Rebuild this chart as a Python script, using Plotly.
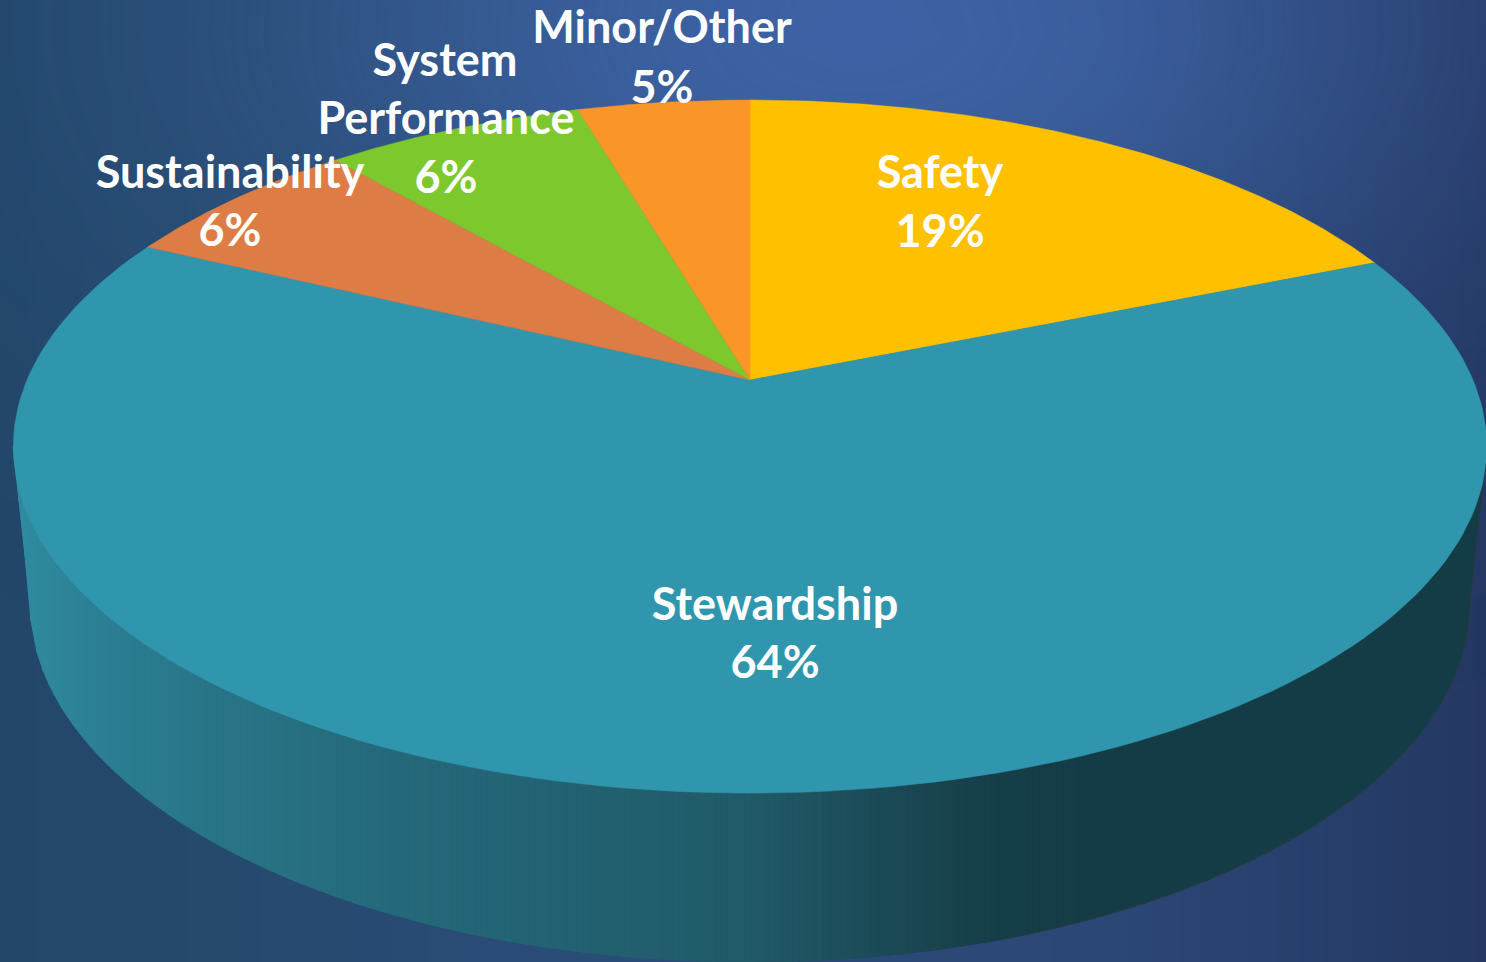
#!/usr/bin/env python
import numpy as np
import plotly.graph_objects as go

categories = ["Safety", "Stewardship", "Sustainability", "System Performance", "Minor/Other"]
# slice shares (the printed labels are rounded)
shares = [18.85, 63.25, 6.5, 6.85, 4.55]
colors = ["#FFC000", "#3096AE", "#DD7D45", "#7DC92D", "#FA9527"]

# one entry per printed line of label
label_text = ["Safety", "19%", "Stewardship", "64%", "Sustainability", "6%",
              "System", "Performance", "6%", "Minor/Other", "5%"]
label_x = [940, 940, 775, 775, 230, 230, 445, 446, 446, 662, 662]
label_y = [177, 236, 609, 667, 177, 235, 65, 123, 182, 32, 92]

W, H = 1486, 962

# perspective of the tilted disc: centre of pie sits above the middle of the ellipse
APEX_X, APEX_Y = 750, 380
K, B, C = 0.192, -260.8, 723


def rim(t):
    # t is radians clockwise from the far side of the disc
    depth = np.cos(t)
    return APEX_X + C * np.sin(t) / (1 + K * depth), (APEX_Y + B * depth) / (1 + K * depth)


# wall below the disc, shaded left to right
TOP_CY, TOP_A, TOP_B = 446, 737, 347
LOW_CY, LOW_A, LOW_B = 602, 720, 360
wall_stops_x = [13, 40, 100, 200, 400, 600, 750, 900, 1000, 1100, 1486]
wall_stops_r = [48, 46, 44, 41, 36, 34, 33, 26, 21, 20, 20]
wall_stops_g = [140, 136, 126, 118, 105, 96, 90, 72, 62, 60, 60]
wall_stops_b = [162, 156, 148, 136, 122, 112, 104, 84, 72, 70, 70]


def wall_bottom(x):
    dx = np.abs(x - APEX_X)
    if dx >= LOW_A:
        # straight silhouette from the low rim up to the widest point of the top
        frac = (TOP_A - dx) / (TOP_A - LOW_A)
        return TOP_CY + frac * (LOW_CY - TOP_CY)
    return LOW_CY + LOW_B * np.sqrt(1 - (dx / LOW_A) ** 2)


fig = go.Figure()

# backdrop
gx = np.linspace(0, W, 40)
gy = np.linspace(0, H, 26)
base = np.tile(gx / W, (len(gy), 1))
fig.add_trace(go.Heatmap(
    x=gx, y=gy, z=base, zmin=0, zmax=1, zsmooth="best", showscale=False, hoverinfo="skip",
    colorscale=[[0, "#23476A"], [0.15, "#264A6E"], [0.4, "#2B4B78"], [0.75, "#2B4776"], [1, "#243862"]],
))
mx, my = np.meshgrid(gx, gy)
glow = np.exp(-(((mx - 860) / 560) ** 2 + ((my - 30) / 300) ** 2))
fig.add_trace(go.Heatmap(
    x=gx, y=gy, z=glow, zmin=0, zmax=1, zsmooth="best", showscale=False, hoverinfo="skip",
    colorscale=[[0, "rgba(70,110,185,0)"], [1, "rgba(70,110,185,0.68)"]],
))

# wall strips
edges = np.arange(13, W + 6, 6.0)
for x0 in edges:
    x1 = x0 + 6
    mid = x0 + 3
    r = np.interp(mid, wall_stops_x, wall_stops_r)
    g = np.interp(mid, wall_stops_x, wall_stops_g)
    b = np.interp(mid, wall_stops_x, wall_stops_b)
    col = f"rgb({r:.0f},{g:.0f},{b:.0f})"
    xs = np.clip([x0, x1, x1, x0, x0], APEX_X - TOP_A, APEX_X + TOP_A)
    y_pts = [TOP_CY, TOP_CY, wall_bottom(xs[1]), wall_bottom(xs[0]), TOP_CY]
    fig.add_trace(go.Scatter(x=xs, y=y_pts, mode="lines", fill="toself", fillcolor=col,
                             line=dict(color=col, width=1), hoverinfo="skip", showlegend=False))

# thin dark edge on the shaded side of the wall
edge_x = np.arange(1000.0, W + 1, 6.0)
fig.add_trace(go.Scatter(x=edge_x, y=[wall_bottom(v) for v in edge_x], mode="lines",
                         line=dict(color="#2B3A3E", width=1), hoverinfo="skip", showlegend=False))

# top face slices
start = 0.0
total = sum(shares)
for name, share, col in zip(categories, shares, colors):
    t = np.linspace(start, start + share / total, 160) * 2 * np.pi
    rx, ry = rim(t)
    fig.add_trace(go.Scatter(
        x=np.r_[APEX_X, rx, APEX_X], y=np.r_[APEX_Y, ry, APEX_Y],
        mode="lines", fill="toself", fillcolor=col, line=dict(color=col, width=0.5),
        name=name, hoverinfo="name", showlegend=False,
    ))
    start += share / total

fig.add_trace(go.Scatter(
    x=label_x, y=label_y, text=label_text, mode="text", textposition="middle center",
    textfont=dict(family="Lato", size=45, color="white", weight="bold"),
    hoverinfo="skip", showlegend=False,
))

fig.update_layout(
    width=W, height=H, margin=dict(l=0, r=0, t=0, b=0), autosize=False,
    paper_bgcolor="#254A6C", plot_bgcolor="#254A6C", showlegend=False,
    xaxis=dict(range=[0, W], visible=False, fixedrange=True),
    yaxis=dict(range=[H, 0], visible=False, fixedrange=True),
)

fig.write_html("out.html", config=dict(displayModeBar=False),
               post_script="document.body.style.margin='0';document.body.style.overflow='hidden';")
